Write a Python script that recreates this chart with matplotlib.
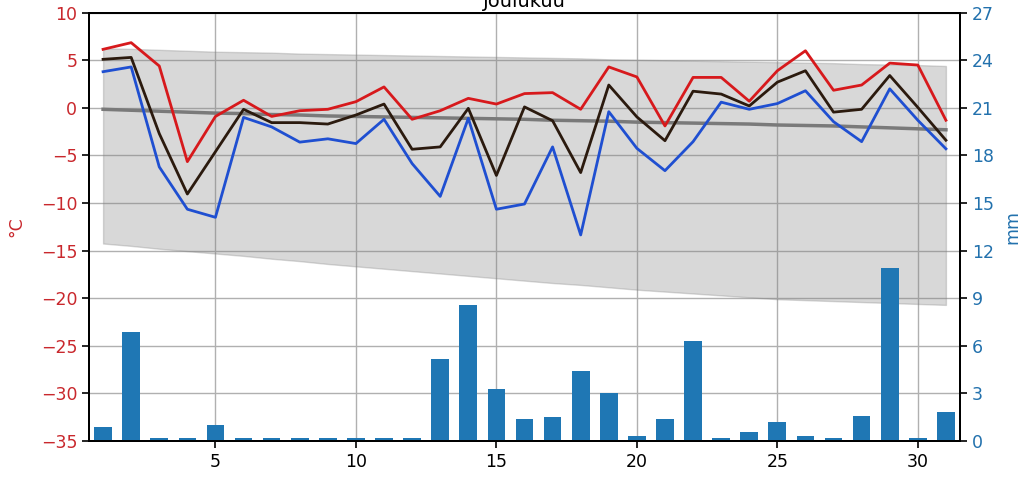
import numpy as np
import matplotlib
matplotlib.use("Agg")
import matplotlib.pyplot as plt

# päivät
days = np.arange(1, 32)

# lämpötilat (°C)
t_max = [6.15, 6.85, 4.4, -5.65, -0.9, 0.8, -0.9, -0.3, -0.15, 0.65,
         2.2, -1.2, -0.3, 1.0, 0.4, 1.5, 1.6, -0.15, 4.3, 3.25,
         -1.9, 3.2, 3.2, 0.7, 3.9, 6.0, 1.85, 2.4, 4.7, 4.5, -1.3]
t_mean = [5.1, 5.3, -2.7, -9.05, -4.6, -0.15, -1.55, -1.55, -1.7, -0.75,
          0.4, -4.35, -4.1, -0.05, -7.1, 0.1, -1.35, -6.8, 2.4, -0.95,
          -3.45, 1.75, 1.45, 0.2, 2.7, 3.9, -0.45, -0.15, 3.4, 0.05, -3.4]
t_min = [3.8, 4.3, -6.2, -10.65, -11.5, -1.0, -2.0, -3.6, -3.25, -3.75,
         -1.2, -5.85, -9.3, -1.1, -10.65, -10.1, -4.1, -13.35, -0.4, -4.25,
         -6.6, -3.55, 0.6, -0.15, 0.45, 1.8, -1.45, -3.55, 2.0, -1.3, -4.3]

# vertailukauden keskilämpötila ja vaihteluväli
t_norm = [-0.15, -0.25, -0.35, -0.45, -0.55, -0.6, -0.7, -0.75, -0.85, -0.9,
          -0.95, -1.0, -1.05, -1.1, -1.15, -1.2, -1.3, -1.35, -1.4, -1.5,
          -1.55, -1.6, -1.65, -1.7, -1.8, -1.85, -1.9, -2.0, -2.1, -2.2, -2.3]
band_hi = [6.25, 6.2, 6.1, 6.0, 5.9, 5.85, 5.8, 5.7, 5.65, 5.6,
           5.55, 5.5, 5.45, 5.4, 5.35, 5.3, 5.25, 5.2, 5.1, 5.05,
           5.0, 4.95, 4.9, 4.85, 4.8, 4.75, 4.7, 4.6, 4.55, 4.5, 4.4]
band_lo = [-14.25, -14.5, -14.8, -15.05, -15.3, -15.55, -15.85, -16.1, -16.4, -16.65,
           -16.9, -17.15, -17.4, -17.65, -17.9, -18.15, -18.4, -18.6, -18.85, -19.1,
           -19.3, -19.5, -19.7, -19.9, -20.1, -20.2, -20.3, -20.4, -20.5, -20.6, -20.7]

# sademäärä (mm)
rain = [0.9, 6.9, 0.17, 0.17, 1.0, 0.17, 0.17, 0.17, 0.17, 0.17,
        0.17, 0.17, 5.2, 8.6, 3.3, 1.4, 1.5, 4.4, 3.0, 0.3,
        1.4, 6.3, 0.17, 0.6, 1.2, 0.3, 0.17, 1.6, 10.9, 0.17, 1.8]

fs = 12.5
red_txt = '#c9282d'
blue_txt = '#2271ad'

fig = plt.figure(figsize=(10.34, 4.84), dpi=100)
ax = fig.add_axes([0.0861, 0.0888, 0.8423, 0.885])

ax.fill_between(days, band_lo, band_hi, color='gray', alpha=0.3, lw=1)
ax.plot(days, t_norm, color='#7a7a7a', lw=2.5)
ax.plot(days, t_max, color='#d7191c', lw=2)
ax.plot(days, t_mean, color='#2b1a0e', lw=2)
ax.plot(days, t_min, color='#1f4fd1', lw=2)

ax.set_xlim(0.5, 31.5)
ax.set_ylim(-35, 10)
ax.set_yticks(np.arange(-35, 11, 5))
ax.set_xticks([5, 10, 15, 20, 25, 30])
ax.grid(True, color='#b0b0b0', lw=1)
ax.set_axisbelow(True)
ax.tick_params(axis='y', colors='black', labelcolor=red_txt, labelsize=fs, width=1.2, length=5)
ax.tick_params(axis='x', labelsize=fs, width=1.2, length=5)
ax.set_ylabel('°C', color=red_txt, fontsize=fs, labelpad=11)
ax.set_title('Joulukuu', fontsize=14, pad=4)

ax2 = ax.twinx()
ax2.bar(days, rain, width=0.63, color='tab:blue')
ax2.set_ylim(0, 27)
ax2.set_yticks(np.arange(0, 28, 3))
ax2.tick_params(axis='y', colors='black', labelcolor=blue_txt, labelsize=fs, width=1.2, length=5)
ax2.set_ylabel('mm', color=blue_txt, fontsize=fs, labelpad=7)

for a in (ax, ax2):
    for s in a.spines.values():
        s.set_linewidth(1.4)

fig.savefig('out.png', dpi=100)
